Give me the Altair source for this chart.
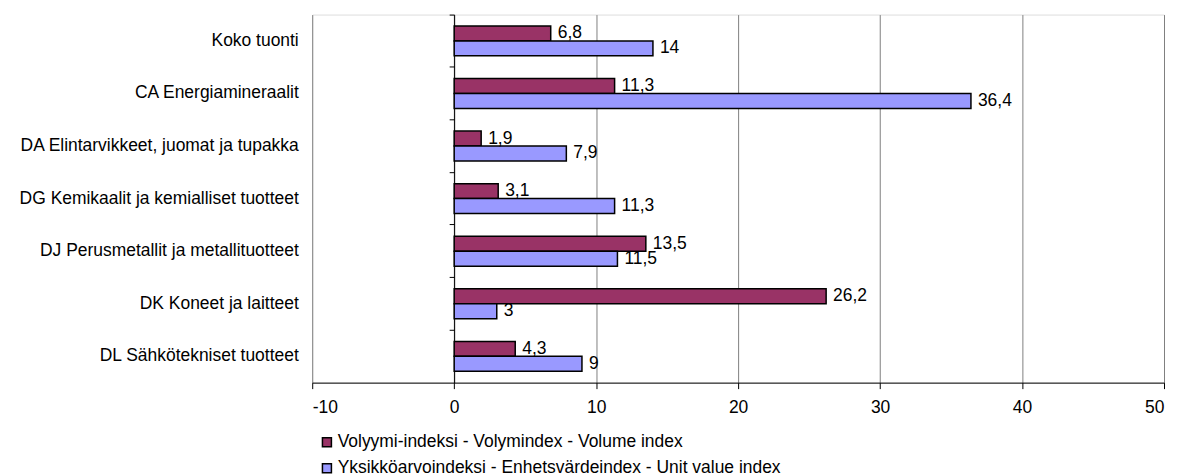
import altair as alt
import pandas as pd

categories = [
    "Koko tuonti",
    "CA Energiamineraalit",
    "DA Elintarvikkeet, juomat ja tupakka",
    "DG Kemikaalit ja kemialliset tuotteet",
    "DJ Perusmetallit ja metallituotteet",
    "DK Koneet ja laitteet",
    "DL Sähkötekniset tuotteet",
]
series = [
    "Volyymi-indeksi - Volymindex - Volume index",
    "Yksikköarvoindeksi - Enhetsvärdeindex - Unit value index",
]
volume = [6.8, 11.3, 1.9, 3.1, 13.5, 26.2, 4.3]
unit_value = [14, 36.4, 7.9, 11.3, 11.5, 3, 9]
colors = ["#993366", "#9999FF"]
x_ticks = [-10, 0, 10, 20, 30, 40, 50]

rows = []
for c, v, u in zip(categories, volume, unit_value):
    for s, val in zip(series, [v, u]):
        lab = (f"{val:g}").replace(".", ",")
        rows.append({"cat": c, "series": s, "value": val, "label": lab})
df = pd.DataFrame(rows)

FONT = "Liberation Sans"
FS = 17.5

y_enc = alt.Y(
    "cat:N",
    sort=categories,
    scale=alt.Scale(paddingInner=0, paddingOuter=0),
    axis=alt.Axis(
        title=None, domain=False, ticks=False, labelFontSize=FS, labelFont=FONT,
        labelColor="black", labelPadding=14, labelLimit=400,
    ),
)
y_off = alt.YOffset("series:N", sort=series, scale=alt.Scale(paddingOuter=0.76, paddingInner=0))

x_enc = alt.X(
    "value:Q",
    scale=alt.Scale(domain=[-10, 50], nice=False, zero=False),
    axis=alt.Axis(
        title=None, values=x_ticks, grid=True, gridColor="#808080", gridWidth=1,
        domainColor="black", tickColor="black", tickSize=6, labelFontSize=FS, labelFont=FONT,
        labelColor="black", labelPadding=10, labelExpr="'' + datum.value",
    ),
)

bars = alt.Chart(df).mark_bar(stroke="black", strokeWidth=1.5).encode(
    y=y_enc,
    yOffset=y_off,
    x=x_enc,
    x2=alt.datum(0),
    color=alt.Color(
        "series:N",
        sort=series,
        scale=alt.Scale(domain=series, range=colors),
        legend=alt.Legend(
            title=None, orient="none", legendX=6, legendY=420, direction="vertical",
            symbolType="square", symbolSize=81, symbolStrokeColor="black",
            symbolStrokeWidth=1.5, labelFontSize=FS, labelFont=FONT, labelColor="black",
            rowPadding=7, symbolOffset=0, labelOffset=2, padding=0, labelLimit=800,
        ),
    ),
)

texts = alt.Chart(df).mark_text(
    align="left", baseline="middle", dx=7, fontSize=FS, font=FONT, color="black"
).encode(
    y=alt.Y(
        "cat:N",
        sort=categories,
        axis=alt.Axis(
            title=None, orient="left", offset=-142.3, labels=False, domain=True,
            domainColor="black", domainWidth=1, ticks=True, tickColor="black",
            tickSize=5, bandPosition=0, grid=False,
        ),
    ),
    yOffset=y_off,
    x=alt.X("value:Q"),
    text="label:N",
)

chart = (
    alt.layer(bars, texts)
    .resolve_axis(y="independent")
    .properties(width=854, height=369, padding={"left": 10, "top": 5, "right": 5, "bottom": 0})
    .configure_view(stroke="#808080", strokeWidth=1)
    .configure(background="white")
)

chart.save("out.html", embed_options={"renderer": "svg", "actions": False})
